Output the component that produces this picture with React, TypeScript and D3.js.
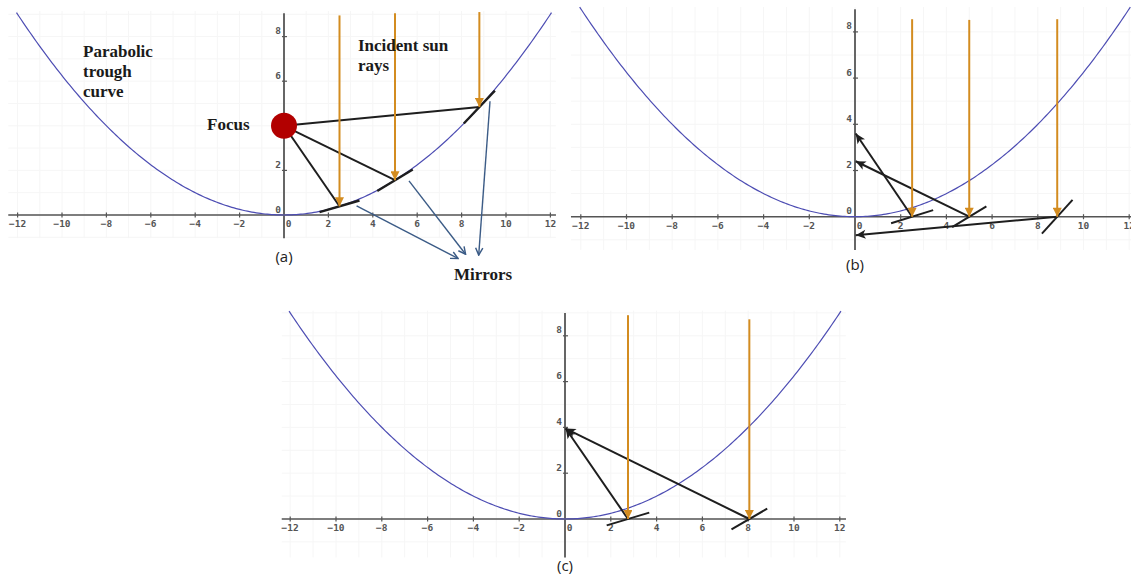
import * as d3 from 'd3';

// shared axis data
const xTicks = [-12, -10, -8, -6, -4, -2, 0, 2, 4, 6, 8, 10, 12];
const yTicks = [0, 2, 4, 6, 8];
const gridXs = d3.range(-12, 13, 1);
const gridYs = d3.range(-2, 10, 1);
const focalLength = 4; // trough curve y = x^2 / (4 f)
const curveXs = d3.range(-12.05, 12.06, 0.1);

// panel (a): mirrors on the curve, all rays go to the focus
const raysA = [2.5, 5, 8.8];
const rayTopsA = [8.95, 9.05, 9.1];
const mirrorYA = [0.39, 1.56, 4.84];
const mirrorSlopeA = [0.29, 0.6, 1.05];
const mirrorHalfA = [0.9, 0.8, 0.7];
const focusA = [0, 4];
const pointerFromA = [[3.27, 0.41], [5.63, 1.53], [9.28, 5.1]];
const pointerToA = [[7.84, -1.95], [8.18, -1.76], [8.77, -1.8]];

// panel (b): same mirror tilts, moved down to y = 0
const raysB = [2.5, 5, 8.85];
const rayTopsB = [8.55, 8.52, 8.55];
const mirrorSlopeB = [0.31, 0.6, 1.09];
const mirrorHalfB = [0.92, 0.75, 0.67];
const hitsB = [3.6, 2.4, -0.8];

// panel (c): mirrors at y = 0 re-tilted to meet one point
const raysC = [2.75, 8.05];
const rayTopsC = [8.9, 8.72];
const mirrorSlopeC = [0.3, 0.58];
const mirrorHalfC = [0.93, 0.78];
const hitsC = [3.95, 3.95];

const ORANGE = '#d38c20';
const BLUE_CURVE = '#4d4db3';
const INK = '#1e1e1e';
const POINTER = '#3b5b86';

type Frame = {
  x0: number; y0: number; kx: number; ky: number;
  xMin: number; xMax: number; yMin: number; yMax: number;
};

const frameA: Frame = { x0: 284, y0: 215, kx: 22.2, ky: 22.3, xMin: -12.42, xMax: 12.25, yMin: -1.04, yMax: 9.05 };
const frameB: Frame = { x0: 855, y0: 216.7, kx: 22.85, ky: 23.1, xMin: -12.43, xMax: 12.6, yMin: -1.44, yMax: 8.98 };
const frameC: Frame = { x0: 565, y0: 519, kx: 22.9, ky: 22.9, xMin: -12.37, xMax: 12.27, yMin: -1.68, yMax: 9.0 };

const scalesFor = (f: Frame) => ({
  x: d3.scaleLinear().domain([0, 1]).range([f.x0, f.x0 + f.kx]),
  y: d3.scaleLinear().domain([0, 1]).range([f.y0, f.y0 - f.ky]),
});

const Axes = ({ f }: { f: Frame }) => {
  const { x, y } = scalesFor(f);
  const curve = d3.line<number>()
    .x(d => x(d))
    .y(d => y((d * d) / (4 * focalLength)));
  const tickFont = { fontFamily: 'DejaVu Sans Mono', fontWeight: 700, fontSize: 9.5, fill: '#555' };
  return (
    <g>
      {gridXs.map(v => (
        <line key={'gx' + v} x1={x(v)} x2={x(v)} y1={y(f.yMax + 0.1)} y2={y(f.yMin)} stroke="#f6f6f6" strokeWidth={1} />
      ))}
      {gridYs.filter(v => v >= f.yMin && v <= f.yMax).map(v => (
        <line key={'gy' + v} x1={x(f.xMin)} x2={x(Math.min(f.xMax, 12.3))} y1={y(v)} y2={y(v)} stroke="#f6f6f6" strokeWidth={1} />
      ))}
      <line x1={x(f.xMin)} x2={x(f.xMax)} y1={y(0)} y2={y(0)} stroke="#555" strokeWidth={1.5} />
      <line x1={x(0)} x2={x(0)} y1={y(f.yMax)} y2={y(f.yMin)} stroke="#666" strokeWidth={2} />
      {xTicks.map(v => (
        <g key={'xt' + v}>
          {v !== 0 && <line x1={x(v)} x2={x(v)} y1={y(0) - 2.5} y2={y(0) + 2.5} stroke="#555" strokeWidth={1.2} />}
          <text x={v === 0 ? x(v) + 4.5 : x(v)} y={y(0) + 12} textAnchor="middle" style={tickFont}>
            {v < 0 ? '\u2212' + Math.abs(v) : String(v)}
          </text>
        </g>
      ))}
      {yTicks.map(v => (
        <g key={'yt' + v}>
          {v !== 0 && <line x1={x(0) - 2} x2={x(0) + 3} y1={y(v)} y2={y(v)} stroke="#555" strokeWidth={1.2} />}
          <text x={x(0) - 3} y={y(v) - 2.5} textAnchor="end" style={tickFont}>{v}</text>
        </g>
      ))}
      <path d={curve(curveXs) ?? ''} fill="none" stroke={BLUE_CURVE} strokeWidth={1.2} />
    </g>
  );
};

const Mirror = ({ f, cx, cy, slope, half, w = 2 }: { f: Frame; cx: number; cy: number; slope: number; half: number; w?: number }) => {
  const { x, y } = scalesFor(f);
  return (
    <line x1={x(cx - half)} y1={y(cy - half * slope)} x2={x(cx + half)} y2={y(cy + half * slope)}
      stroke={INK} strokeWidth={w} />
  );
};

const Ray = ({ f, rx, top, bottom }: { f: Frame; rx: number; top: number; bottom: number }) => {
  const { x, y } = scalesFor(f);
  return <line x1={x(rx)} x2={x(rx)} y1={y(top)} y2={y(bottom)} stroke={ORANGE} strokeWidth={2} markerEnd="url(#arrOrange)" />;
};

const serif = { fontFamily: 'Liberation Serif', fontWeight: 700, fontSize: 17, fill: '#1a1a1a' };
const caption = { fontFamily: 'Open Sans', fontSize: 15, fill: '#222' };

const PanelA = () => {
  const f = frameA;
  const { x, y } = scalesFor(f);
  return (
    <g>
      <Axes f={f} />
      {raysA.map((r, i) => (
        <line key={'fl' + i} x1={x(focusA[0])} y1={y(focusA[1])} x2={x(r)} y2={y(mirrorYA[i])} stroke={INK} strokeWidth={2} />
      ))}
      {raysA.map((r, i) => (
        <Mirror key={'m' + i} f={f} cx={r} cy={mirrorYA[i]} slope={mirrorSlopeA[i]} half={mirrorHalfA[i]} w={2.4} />
      ))}
      {raysA.map((r, i) => <Ray key={'r' + i} f={f} rx={r} top={rayTopsA[i]} bottom={mirrorYA[i]} />)}
      <circle cx={x(focusA[0])} cy={y(focusA[1])} r={13} fill="#b20000" />
      {pointerFromA.map((p, i) => (
        <line key={'p' + i} x1={x(p[0])} y1={y(p[1])} x2={x(pointerToA[i][0])} y2={y(pointerToA[i][1])}
          stroke={POINTER} strokeWidth={1.4} markerEnd="url(#arrBlue)" />
      ))}
      <text x={83} y={57} style={serif}>Parabolic</text>
      <text x={83} y={77} style={serif}>trough</text>
      <text x={83} y={97} style={serif}>curve</text>
      <text x={358} y={51} style={serif}>Incident sun</text>
      <text x={358} y={71} style={serif}>rays</text>
      <text x={207} y={130} style={serif}>Focus</text>
      <text x={454} y={280} style={serif}>Mirrors</text>
      <text x={x(0)} y={262} textAnchor="middle" style={caption}>(a)</text>
    </g>
  );
};

const PanelB = () => {
  const f = frameB;
  const { x, y } = scalesFor(f);
  return (
    <g>
      <Axes f={f} />
      {raysB.map((r, i) => (
        <line key={'h' + i} x1={x(r)} y1={y(0)} x2={x(0.03)} y2={y(hitsB[i])} stroke={INK} strokeWidth={2} markerEnd="url(#arrBlack)" />
      ))}
      {raysB.map((r, i) => (
        <Mirror key={'m' + i} f={f} cx={r} cy={0} slope={mirrorSlopeB[i]} half={mirrorHalfB[i]} />
      ))}
      {raysB.map((r, i) => <Ray key={'r' + i} f={f} rx={r} top={rayTopsB[i]} bottom={0} />)}
      <text x={x(0)} y={270} textAnchor="middle" style={caption}>(b)</text>
    </g>
  );
};

const PanelC = () => {
  const f = frameC;
  const { x, y } = scalesFor(f);
  return (
    <g>
      <Axes f={f} />
      {raysC.map((r, i) => (
        <line key={'h' + i} x1={x(r)} y1={y(0)} x2={x(0.03)} y2={y(hitsC[i])} stroke={INK} strokeWidth={2} markerEnd="url(#arrBlack)" />
      ))}
      {raysC.map((r, i) => (
        <Mirror key={'m' + i} f={f} cx={r} cy={0} slope={mirrorSlopeC[i]} half={mirrorHalfC[i]} />
      ))}
      {raysC.map((r, i) => <Ray key={'r' + i} f={f} rx={r} top={rayTopsC[i]} bottom={0} />)}
      <text x={x(0)} y={571} textAnchor="middle" style={caption}>(c)</text>
    </g>
  );
};

export default function App() {
  return (
    <svg width={1131} height={576} style={{ position: 'absolute', left: 0, top: 0, background: '#fff' }}>
      <defs>
        <marker id="arrOrange" viewBox="0 0 10 10" refX={10} refY={5} markerWidth={10} markerHeight={9}
          markerUnits="userSpaceOnUse" orient="auto">
          <path d="M0,0 L10,5 L0,10 Z" fill={ORANGE} />
        </marker>
        <marker id="arrBlack" viewBox="0 0 10 10" refX={10} refY={5} markerWidth={11} markerHeight={10}
          markerUnits="userSpaceOnUse" orient="auto">
          <path d="M0,0.5 L10,5 L0,9.5 L2.5,5 Z" fill={INK} />
        </marker>
        <marker id="arrBlue" viewBox="0 0 10 10" refX={9} refY={5} markerWidth={9} markerHeight={9}
          markerUnits="userSpaceOnUse" orient="auto">
          <path d="M1,1 L9,5 L1,9" fill="none" stroke={POINTER} strokeWidth={1.6} />
        </marker>
      </defs>
      <rect width={1131} height={576} fill="#fff" />
      <PanelA />
      <PanelB />
      <PanelC />
    </svg>
  );
}
